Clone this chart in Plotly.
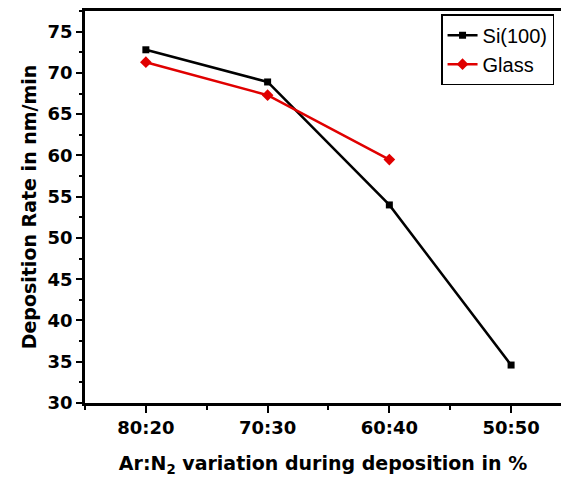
import plotly.graph_objects as go

categories = ["80:20", "70:30", "60:40", "50:50"]
si_values = [72.8, 68.9, 54.0, 34.6]
glass_values = [71.3, 67.3, 59.5]

x_si = list(range(len(si_values)))
x_glass = list(range(len(glass_values)))

fig = go.Figure()
fig.add_trace(go.Scatter(
    x=x_si, y=si_values, name="Si(100)", mode="lines+markers",
    line=dict(color="black", width=2.5),
    marker=dict(symbol="square", size=7, color="black"),
))
fig.add_trace(go.Scatter(
    x=x_glass, y=glass_values, name="Glass", mode="lines+markers",
    line=dict(color="#e00000", width=2.5),
    marker=dict(symbol="diamond", size=9, color="#e00000"),
))

tickfont = dict(family="DejaVu Sans", size=18, color="black", weight="bold")

fig.update_layout(
    width=561, height=484,
    margin=dict(l=85, r=0, t=11, b=81),
    paper_bgcolor="white", plot_bgcolor="white",
    showlegend=True,
    legend=dict(
        x=0.748, y=0.992, xanchor="left", yanchor="top",
        bordercolor="black", borderwidth=1.5, bgcolor="white",
        font=dict(family="Liberation Sans", size=20, color="black"),
        tracegroupgap=0, itemwidth=30,
    ),
    xaxis=dict(
        range=[-0.5, 3.41],
        tickmode="array", tickvals=list(range(len(categories))), ticktext=categories,
        showline=True, linecolor="black", linewidth=2.5, mirror=True,
        ticks="outside", ticklen=7, tickwidth=2, tickcolor="black",
        minor=dict(tickvals=[-0.5, 0.5, 1.5, 2.5, 3.5], ticks="outside", ticklen=4, tickwidth=2, tickcolor="black"),
        showgrid=False, zeroline=False,
        tickfont=tickfont,
        title=dict(text="Ar:N<sub>2</sub> variation during deposition in %",
                   font=dict(family="DejaVu Sans", size=19, color="black", weight="bold"),
                   standoff=20),
    ),
    yaxis=dict(
        range=[30, 77.5],
        tickmode="array", tickvals=[30, 35, 40, 45, 50, 55, 60, 65, 70, 75],
        showline=True, linecolor="black", linewidth=2.5, mirror=False,
        ticks="outside", ticklen=6, tickwidth=2, tickcolor="black",
        minor=dict(tickvals=[32.5, 37.5, 42.5, 47.5, 52.5, 57.5, 62.5, 67.5, 72.5, 77.5], ticks="outside", ticklen=3, tickwidth=2, tickcolor="black"),
        showgrid=False, zeroline=False,
        tickfont=tickfont,
        title=dict(text="Deposition Rate in nm/min",
                   font=dict(family="DejaVu Sans", size=19, color="black", weight="bold"),
                   standoff=6),
    ),
)

fig.write_html("out.html")
